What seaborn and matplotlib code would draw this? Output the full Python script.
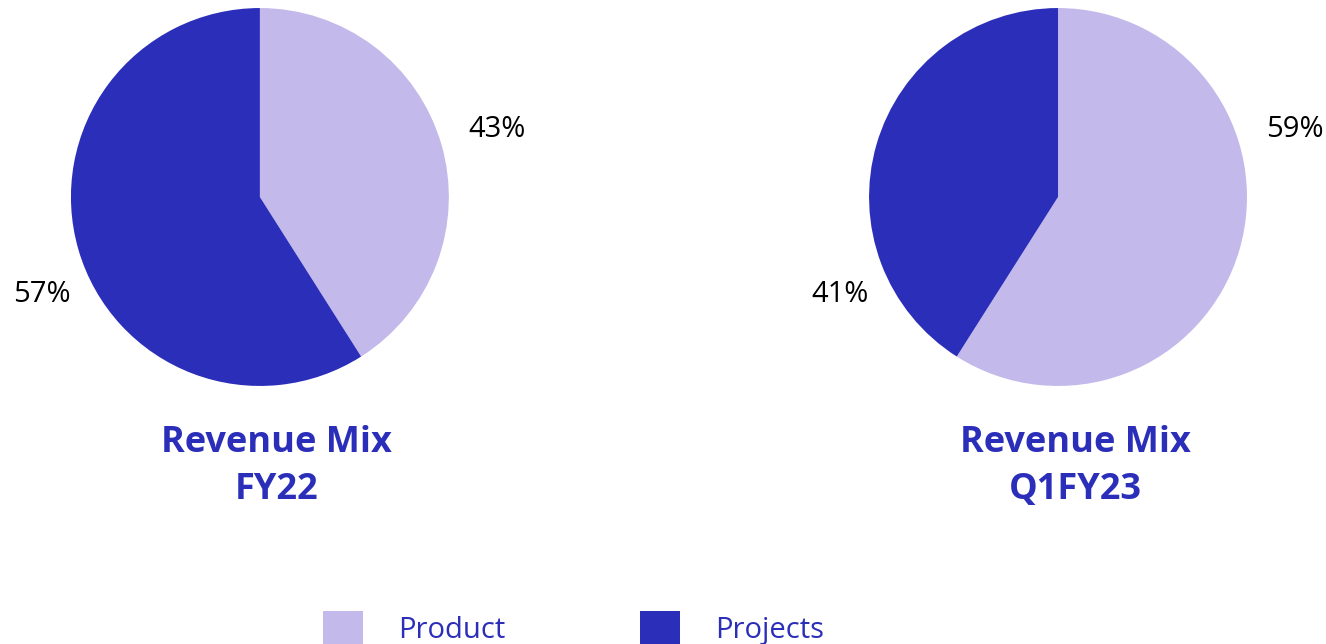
import seaborn as sns
import matplotlib.pyplot as plt

sns.set_style("white")
plt.rcParams['font.family'] = ['Open Sans', 'DejaVu Sans']

segments = ["Product", "Projects"]
# wedge sizes as drawn in the original, and the printed labels
fy22 = [41, 59]
fy22_labels = ["43%", "57%"]
q1fy23 = [59, 41]
q1fy23_labels = ["59%", "41%"]
titles = ["Revenue Mix\nFY22", "Revenue Mix\nQ1FY23"]

light = "#C3B9EA"
dark = "#2B2EB9"
colors = [light, dark]

fig = plt.figure(figsize=(13.26, 6.44), dpi=100)

rects = [[0.0535, 0.4006, 0.285, 0.587], [0.6554, 0.4006, 0.285, 0.587]]
# label spots: product to the right, projects to the left
label_pos = [(1.254, 0.355), (-1.153, -0.518)]
wedges = None
for rect, vals, labs, title in zip(rects, [fy22, q1fy23],
                                   [fy22_labels, q1fy23_labels], titles):
    ax = fig.add_axes(rect)
    w, _ = ax.pie(vals, colors=colors, startangle=90, counterclock=False,
                  wedgeprops=dict(linewidth=0))
    ax.set_xlim(-1, 1)
    ax.set_ylim(-1, 1)
    ax.set_aspect("equal")
    for lab, (x, y) in zip(labs, label_pos):
        ax.text(x, y, lab, ha="center", va="center", fontsize=21,
                color="black", clip_on=False)
    ax.text(0.09, -1.205, title, ha="center", va="top", fontsize=26,
            fontweight="bold", color=dark, linespacing=1.42, clip_on=False)
    if wedges is None:
        wedges = w

fig.legend(wedges, segments, loc="upper left", bbox_to_anchor=(0.2436, 0.051),
           frameon=False, ncol=2, fontsize=21, labelcolor=dark,
           handlelength=1.38, handleheight=1.38, handletextpad=1.2,
           columnspacing=4.6, borderpad=0, borderaxespad=0)

fig.savefig("out.png", dpi=100)
